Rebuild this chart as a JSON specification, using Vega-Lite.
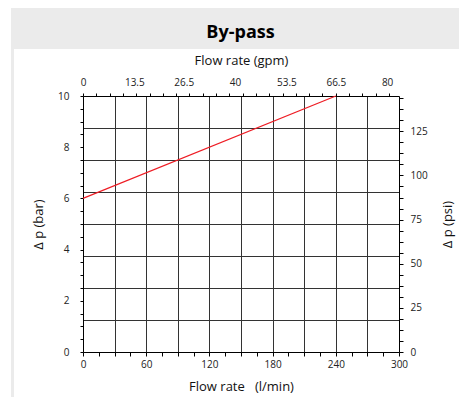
{
  "$schema": "https://vega.github.io/schema/vega-lite/v6.json",
  "padding": {"left": 11, "top": 8, "right": 0, "bottom": 0},
  "background": "white",
  "config": {
    "view": {"stroke": null},
    "font": "Open Sans",
    "axis": {
      "labelFont": "Open Sans",
      "titleFont": "Open Sans",
      "labelFontSize": 10,
      "labelColor": "#222",
      "titleFontSize": 13,
      "titleFontWeight": "normal",
      "titleColor": "#111",
      "tickColor": "#000",
      "domainColor": "#000",
      "gridColor": "#333333",
      "gridOpacity": 1,
      "gridWidth": 1,
      "labelFlush": false,
      "labelOverlap": false,
      "labelBound": false,
      "format": ".4~g"
    }
  },
  "spacing": 0,
  "hconcat": [
    {
      "width": 3,
      "height": 389,
      "view": {"fill": "#ebebeb", "stroke": null},
      "data": {"values": [{"s": ""}]},
      "mark": "text",
      "encoding": {"text": {"field": "s"}}
    },
    {
      "spacing": 5,
      "vconcat": [
        {
          "width": 445,
          "height": 41,
          "view": {"fill": "#ebebeb", "stroke": null},
          "data": {"values": [{"title": "By-pass"}]},
          "mark": {"type": "text", "font": "Open Sans", "fontSize": 18, "fontWeight": "bold", "color": "#000", "baseline": "middle", "dx": 4, "dy": 4},
          "encoding": {"text": {"field": "title"}}
        },
        {
          "spacing": 17,
          "hconcat": [
            {
              "width": 1,
              "height": 1,
              "data": {"values": [{"s": ""}]},
              "mark": "text",
              "encoding": {"text": {"field": "s"}}
            },
            {
              "width": 316,
              "height": 256,
              "data": {"values": [
                {"q": 0, "dp": 6, "gpm": 0, "psi": 87},
                {"q": 240, "dp": 10, "gpm": 66.5, "psi": 145}
              ]},
              "resolve": {"scale": {"x": "independent", "y": "independent"}},
              "layer": [
                {
                  "resolve": {"axis": {"x": "independent", "y": "independent"}},
                  "layer": [
                    {
                      "mark": {"type": "line", "opacity": 0},
                      "encoding": {
                        "x": {"field": "q", "type": "quantitative", "scale": {"domain": [0, 300], "nice": false, "zero": false},
                          "axis": {"orient": "bottom", "values": [30, 60, 90, 120, 150, 180, 210, 240, 270], "grid": true, "labels": false, "ticks": false, "domain": false, "title": null}},
                        "y": {"field": "dp", "type": "quantitative", "scale": {"domain": [0, 10], "nice": false, "zero": false},
                          "axis": {"orient": "left", "values": [1.25, 2.5, 3.75, 5, 6.25, 7.5, 8.75], "grid": true, "labels": false, "ticks": false, "domain": false, "title": null}}
                      }
                    },
                    {
                      "mark": {"type": "line", "color": "#ee1c24", "strokeWidth": 1.2},
                      "encoding": {
                        "x": {"field": "q", "type": "quantitative", "scale": {"domain": [0, 300], "nice": false, "zero": false},
                          "axis": {"orient": "bottom", "values": [0, 15, 30, 45, 60, 75, 90, 105, 120, 135, 150, 165, 180, 195, 210, 225, 240, 255, 270, 285, 300],
                            "labelExpr": "datum.value % 60 === 0 ? datum.label : ''", "grid": false, "tickSize": 4, "labelPadding": 3,
                            "title": "Flow rate\u00a0\u00a0\u00a0(l/min)", "titlePadding": 11}},
                        "y": {"field": "dp", "type": "quantitative", "scale": {"domain": [0, 10], "nice": false, "zero": false},
                          "axis": {"orient": "left", "values": [0, 0.5, 1, 1.5, 2, 2.5, 3, 3.5, 4, 4.5, 5, 5.5, 6, 6.5, 7, 7.5, 8, 8.5, 9, 9.5, 10],
                            "labelExpr": "datum.value % 2 === 0 ? datum.label : ''", "grid": false, "tickSize": 3, "labelPadding": 11,
                            "title": "Δ p (bar)", "titlePadding": 12}}
                      }
                    }
                  ]
                },
                {
                  "resolve": {"axis": {"x": "independent", "y": "independent"}},
                  "layer": [
                    {
                      "mark": {"type": "line", "opacity": 0},
                      "encoding": {
                        "x": {"field": "gpm", "type": "quantitative", "scale": {"domain": [0, 83.125], "nice": false, "zero": false},
                          "axis": {"orient": "top", "values": [0, 3.5, 7, 10.5, 14, 17.5, 21, 24.5, 28, 31.5, 35, 38.5, 42, 45.5, 49, 52.5, 56, 59.5, 63, 66.5, 70, 73.5, 77, 80.5],
                            "labels": false, "grid": false, "tickSize": 3, "title": null}},
                        "y": {"field": "psi", "type": "quantitative", "scale": {"domain": [0, 145], "nice": false, "zero": false},
                          "axis": {"orient": "right", "values": [0, 6.25, 12.5, 18.75, 25, 31.25, 37.5, 43.75, 50, 56.25, 62.5, 68.75, 75, 81.25, 87.5, 93.75, 100, 106.25, 112.5, 118.75, 125, 131.25, 137.5, 143.75],
                            "labelExpr": "datum.value % 25 === 0 ? datum.label : ''", "grid": false, "tickSize": 4, "labelPadding": 7,
                            "title": "Δ p (psi)", "titleAngle": 270, "titleBaseline": "top", "titlePadding": 14}}
                      }
                    },
                    {
                      "mark": {"type": "line", "opacity": 0},
                      "encoding": {
                        "x": {"field": "gpm", "type": "quantitative", "scale": {"domain": [0, 83.125], "nice": false, "zero": false},
                          "axis": {"orient": "top", "values": [0, 13.5, 26.5, 40, 53.5, 66.5, 80], "ticks": false, "tickSize": 0, "domain": false, "grid": false,
                            "labelPadding": 9, "title": "Flow rate (gpm)", "titlePadding": 10}},
                        "y": {"field": "psi", "type": "quantitative", "scale": {"domain": [0, 145], "nice": false, "zero": false},
                          "axis": null}
                      }
                    }
                  ]
                }
              ]
            }
          ]
        }
      ]
    }
  ]
}
